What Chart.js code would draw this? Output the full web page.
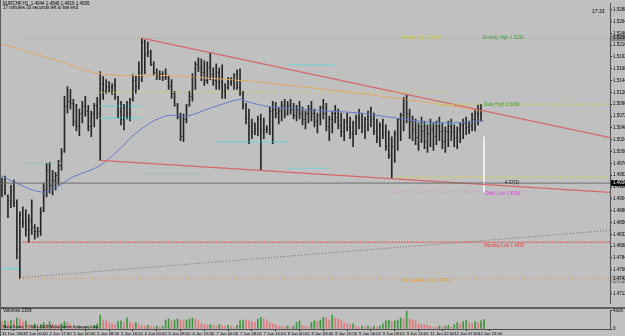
<!DOCTYPE html>
<html>
<head>
<meta charset="utf-8">
<script src="https://cdn.jsdelivr.net/npm/chart.js@4.4.0/dist/chart.umd.min.js"></script>
<style>
  body { margin: 0; background: #c0c0c0; width: 625px; height: 336px; overflow: hidden; position: relative; }
  #price { position: absolute; left: 0; top: 0; }
  #vol { position: absolute; left: 0; top: 307px; }
</style>
</head>
<body>
<canvas id="price" width="625" height="307"></canvas>
<canvas id="vol" width="625" height="29"></canvas>
<script>
// EURCHF H1, 31 Dec 2008 - 12 Jan 2009
const timeLabels = ['31 Dec 2008', '2 Jan 00:00', '2 Jan 17:00', '5 Jan 00:00', '5 Jan 08:00', '5 Jan 16:00',
  '6 Jan 00:00', '6 Jan 08:00', '6 Jan 16:00', '7 Jan 00:00', '7 Jan 08:00', '7 Jan 16:00', '8 Jan 00:00',
  '8 Jan 08:00', '8 Jan 16:00', '9 Jan 00:00', '9 Jan 08:00', '9 Jan 16:00', '11 Jan 22:00', '12 Jan 07:00', '12 Jan 15:00'];

const priceTicks = [1.5288, 1.5264, 1.5240, 1.5216, 1.5192, 1.5168, 1.5144, 1.5120, 1.5096, 1.5072, 1.5048, 1.5024,
  1.5000, 1.4976, 1.4952, 1.4928, 1.4904, 1.4880, 1.4856, 1.4832, 1.4808, 1.4784, 1.4760, 1.4736, 1.4712];

const openP = [
  1.4932, 1.4922, 1.4910, 1.4902, 1.4922, 1.4898, 1.4802, 1.4872, 1.4858, 1.4842,
  1.4862, 1.4846, 1.4838, 1.4838, 1.4882, 1.4922, 1.4962, 1.4932, 1.4942, 1.4952,
  1.4972, 1.5002, 1.5092, 1.5102, 1.5098, 1.5062, 1.5052, 1.5078, 1.5092, 1.5082,
  1.5052, 1.5078, 1.5094, 1.5078, 1.5138, 1.5122, 1.5132, 1.5130, 1.5134, 1.5110,
  1.5082, 1.5066, 1.5092, 1.5078, 1.5106, 1.5146, 1.5132, 1.5162, 1.5222, 1.5198,
  1.5202, 1.5178, 1.5162, 1.5156, 1.5158, 1.5152, 1.5152, 1.5132, 1.5118, 1.5094,
  1.5072, 1.5032, 1.5066, 1.5094, 1.5112, 1.5152, 1.5178, 1.5172, 1.5162, 1.5146,
  1.5172, 1.5158, 1.5146, 1.5162, 1.5142, 1.5122, 1.5130, 1.5142, 1.5146, 1.5158,
  1.5130, 1.5118, 1.5094, 1.5066, 1.5052, 1.5042, 1.5046, 1.5066, 1.5042, 1.5046,
  1.5046, 1.5082, 1.5086, 1.5078, 1.5082, 1.5094, 1.5078, 1.5094, 1.5086, 1.5074,
  1.5086, 1.5078, 1.5066, 1.5078, 1.5086, 1.5078, 1.5062, 1.5074, 1.5090, 1.5078,
  1.5052, 1.5066, 1.5078, 1.5070, 1.5054, 1.5042, 1.5062, 1.5050, 1.5038, 1.5058,
  1.5070, 1.5066, 1.5050, 1.5066, 1.5082, 1.5066, 1.5042, 1.5030, 1.5054, 1.5038,
  1.5012, 1.4992, 1.5012, 1.5038, 1.5066, 1.5074, 1.5106, 1.5078, 1.5062, 1.5046,
  1.5030, 1.5052, 1.5042, 1.5022, 1.5038, 1.5046, 1.5032, 1.5052, 1.5042, 1.5022,
  1.5042, 1.5052, 1.5042, 1.5030, 1.5046, 1.5054, 1.5058, 1.5050, 1.5054, 1.5066,
  1.5078, 1.5086, 1.5026];

const highP = [
  1.4946, 1.4950, 1.4912, 1.4932, 1.4942, 1.4902, 1.4878, 1.4888, 1.4882, 1.4872,
  1.4902, 1.4852, 1.4846, 1.4886, 1.4936, 1.4976, 1.4978, 1.4962, 1.4958, 1.4982,
  1.5006, 1.5112, 1.5132, 1.5126, 1.5106, 1.5096, 1.5086, 1.5102, 1.5112, 1.5094,
  1.5082, 1.5098, 1.5110, 1.5162, 1.5152, 1.5146, 1.5142, 1.5138, 1.5148, 1.5112,
  1.5102, 1.5096, 1.5102, 1.5108, 1.5156, 1.5154, 1.5182, 1.5230, 1.5226, 1.5222,
  1.5206, 1.5182, 1.5168, 1.5164, 1.5162, 1.5168, 1.5154, 1.5146, 1.5122, 1.5098,
  1.5078, 1.5076, 1.5096, 1.5122, 1.5158, 1.5182, 1.5190, 1.5188, 1.5184, 1.5182,
  1.5200, 1.5170, 1.5178, 1.5170, 1.5176, 1.5138, 1.5150, 1.5150, 1.5158, 1.5166,
  1.5168, 1.5122, 1.5098, 1.5086, 1.5066, 1.5058, 1.5072, 1.5076, 1.5068, 1.5052,
  1.5090, 1.5102, 1.5100, 1.5090, 1.5102, 1.5106, 1.5102, 1.5106, 1.5098, 1.5094,
  1.5102, 1.5090, 1.5082, 1.5094, 1.5102, 1.5086, 1.5078, 1.5092, 1.5106, 1.5098,
  1.5072, 1.5082, 1.5094, 1.5086, 1.5078, 1.5066, 1.5078, 1.5070, 1.5062, 1.5074,
  1.5086, 1.5078, 1.5070, 1.5082, 1.5090, 1.5078, 1.5066, 1.5058, 1.5066, 1.5054,
  1.5042, 1.5030, 1.5042, 1.5066, 1.5078, 1.5110, 1.5114, 1.5086, 1.5072, 1.5066,
  1.5058, 1.5070, 1.5062, 1.5054, 1.5066, 1.5058, 1.5062, 1.5070, 1.5058, 1.5050,
  1.5062, 1.5066, 1.5054, 1.5050, 1.5058, 1.5066, 1.5070, 1.5062, 1.5078, 1.5086,
  1.5096, 1.5096, 1.5030];

const lowP = [
  1.4908, 1.4912, 1.4866, 1.4886, 1.4888, 1.4782, 1.4742, 1.4846, 1.4828, 1.4816,
  1.4832, 1.4822, 1.4826, 1.4830, 1.4878, 1.4908, 1.4916, 1.4912, 1.4922, 1.4932,
  1.4962, 1.4998, 1.5078, 1.5086, 1.5052, 1.5042, 1.5032, 1.5058, 1.5072, 1.5042,
  1.5030, 1.5050, 1.5066, 1.4982, 1.5106, 1.5118, 1.5120, 1.5116, 1.5106, 1.5068,
  1.5054, 1.5044, 1.5066, 1.5062, 1.5102, 1.5118, 1.5126, 1.5142, 1.5158, 1.5192,
  1.5174, 1.5154, 1.5146, 1.5146, 1.5144, 1.5146, 1.5126, 1.5108, 1.5092, 1.5066,
  1.5022, 1.5020, 1.5058, 1.5092, 1.5102, 1.5126, 1.5162, 1.5144, 1.5134, 1.5138,
  1.5146, 1.5134, 1.5126, 1.5126, 1.5108, 1.5108, 1.5126, 1.5134, 1.5126, 1.5126,
  1.5114, 1.5086, 1.5056, 1.5016, 1.5026, 1.5034, 1.5032, 1.4962, 1.5026, 1.5038,
  1.5034, 1.5016, 1.5068, 1.5056, 1.5062, 1.5068, 1.5074, 1.5076, 1.5066, 1.5062,
  1.5066, 1.5054, 1.5046, 1.5058, 1.5062, 1.5050, 1.5038, 1.5054, 1.5066, 1.5042,
  1.5022, 1.5038, 1.5058, 1.5046, 1.5030, 1.5022, 1.5042, 1.5026, 1.5010, 1.5034,
  1.5046, 1.5038, 1.5026, 1.5042, 1.5050, 1.5034, 1.5018, 1.5010, 1.5026, 1.5002,
  1.4986, 1.4946, 1.4978, 1.5002, 1.5022, 1.5042, 1.5058, 1.5026, 1.5022, 1.5014,
  1.5002, 1.5018, 1.5006, 1.4998, 1.5010, 1.5002, 1.5014, 1.5022, 1.5006, 1.4998,
  1.5010, 1.5022, 1.5010, 1.5006, 1.5018, 1.5026, 1.5034, 1.5036, 1.5042, 1.5042,
  1.5054, 1.5062, 1.4918];

const closeP = [
  1.4922, 1.4918, 1.4902, 1.4922, 1.4898, 1.4802, 1.4872, 1.4858, 1.4842, 1.4862,
  1.4846, 1.4838, 1.4838, 1.4878, 1.4922, 1.4962, 1.4932, 1.4942, 1.4952, 1.4972,
  1.4998, 1.5092, 1.5102, 1.5098, 1.5062, 1.5052, 1.5078, 1.5092, 1.5082, 1.5052,
  1.5078, 1.5094, 1.5078, 1.5138, 1.5122, 1.5132, 1.5130, 1.5134, 1.5112, 1.5082,
  1.5066, 1.5092, 1.5078, 1.5106, 1.5146, 1.5132, 1.5162, 1.5222, 1.5198, 1.5202,
  1.5178, 1.5162, 1.5156, 1.5158, 1.5152, 1.5154, 1.5132, 1.5118, 1.5094, 1.5072,
  1.5032, 1.5066, 1.5090, 1.5112, 1.5152, 1.5178, 1.5172, 1.5162, 1.5146, 1.5172,
  1.5158, 1.5146, 1.5162, 1.5142, 1.5122, 1.5130, 1.5142, 1.5146, 1.5158, 1.5130,
  1.5118, 1.5094, 1.5066, 1.5052, 1.5042, 1.5046, 1.5066, 1.5042, 1.5046, 1.5046,
  1.5082, 1.5086, 1.5078, 1.5082, 1.5094, 1.5078, 1.5094, 1.5086, 1.5074, 1.5086,
  1.5078, 1.5066, 1.5078, 1.5086, 1.5078, 1.5062, 1.5074, 1.5090, 1.5078, 1.5052,
  1.5066, 1.5078, 1.5070, 1.5054, 1.5042, 1.5062, 1.5050, 1.5038, 1.5058, 1.5070,
  1.5066, 1.5050, 1.5066, 1.5082, 1.5066, 1.5042, 1.5030, 1.5054, 1.5038, 1.5012,
  1.4992, 1.5012, 1.5038, 1.5066, 1.5074, 1.5106, 1.5078, 1.5062, 1.5046, 1.5030,
  1.5052, 1.5042, 1.5022, 1.5038, 1.5046, 1.5032, 1.5052, 1.5042, 1.5022, 1.5042,
  1.5052, 1.5042, 1.5030, 1.5046, 1.5054, 1.5058, 1.5050, 1.5054, 1.5066, 1.5078,
  1.5086, 1.5078, 1.4936];

const volumes = [
  1800, 2000, 1800, 2200, 2000, 2700, 2500, 1800, 2000, 1100,
  900, 1300, 700, 1100, 1600, 1100, 1800, 1300, 1100, 900,
  1300, 1800, 1600, 1100, 400, 300, 500, 300, 400, 600,
  500, 900, 1300, 3400, 2200, 2000, 1600, 1300, 1100, 1800,
  2000, 1600, 2700, 1800, 1300, 1600, 1100, 900, 700, 900,
  700, 450, 700, 450, 700, 2200, 2500, 2000, 2200, 2500,
  2200, 2000, 2200, 2500, 2700, 2500, 2000, 1300, 1100, 900,
  1100, 900, 700, 1100, 900, 700, 900, 700, 450, 900,
  2000, 2200, 2200, 2000, 1800, 1600, 2500, 2900, 2500, 2000,
  1600, 1300, 1100, 700, 700, 450, 700, 450, 700, 1600,
  2000, 900, 700, 450, 1600, 2000, 1800, 2200, 2900, 2700,
  2200, 3400, 2700, 2500, 2200, 1600, 1300, 1100, 1300, 700,
  450, 700, 450, 700, 450, 700, 450, 700, 1300, 2000,
  2200, 1800, 2000, 2200, 2700, 2500, 4506, 2500, 2200, 2000,
  1300, 1100, 1100, 900, 700, 450, 450, 700, 450, 700,
  900, 450, 1100, 1600, 1300, 1800, 2200, 1600, 1300, 1800,
  1600, 2000, 2309];
const volumeMax = 4506;

// moving averages read at a few bars
const maFastIdx = [0, 4, 13, 18, 23, 27, 33, 39, 46, 55, 62, 70, 80, 82, 89, 100, 110, 120, 130, 140, 150, 162];
const maFastVal = [1.4950, 1.4938, 1.4918, 1.4926, 1.4946, 1.4956, 1.4972, 1.5002, 1.5042, 1.5072, 1.5072,
  1.5088, 1.5106, 1.5102, 1.5092, 1.5086, 1.5082, 1.5078, 1.5070, 1.5062, 1.5058, 1.5062];
const maSlowIdx = [0, 9, 20, 33, 55, 80, 100, 120, 140, 162];
const maSlowVal = [1.5218, 1.5202, 1.5182, 1.5158, 1.5154, 1.5144, 1.5132, 1.5118, 1.5102, 1.5082];

// levels
const monthlyHigh = 1.5230;
const prevDayHigh = 1.5120;
const dailyHigh = 1.5096;
const pivotLevel = 1.4948;
const bidPrice = 1.4936;
const dailyLow = 1.4918;
const monthlyLow = 1.4816;
const prevWeekLow = 1.4742;

// trend lines (bar index, price)
const upperTrendIdx = [47, 204.35], upperTrendVal = [1.5230, 1.5028];
const lowerTrendIdx = [33, 204.35], lowerTrendVal = [1.4982, 1.4917];
const supportIdx = [6, 204.35], supportVal = [1.4744, 1.4840];

// daily pivot stubs
const cyanFrom = [7, 48, 33, 33, 72, 96, 96, 140, 0];
const cyanTo = [21, 67, 47, 47, 96, 112, 110, 153, 6];
const cyanVal = [1.4976, 1.4956, 1.5092, 1.5068, 1.5020, 1.5176, 1.4966, 1.5056, 1.4762];

const idxMin = -0.34, idxMax = 204.35;
const fontFam = '"Liberation Sans", Arial, sans-serif';
Chart.defaults.font.family = fontFam;
Chart.defaults.font.size = 4.5;
Chart.defaults.color = '#000';

function seg(xs, ys) {
  return xs.map((x, i) => ({ x: x, y: ys[i] }));
}
function hline(from, to, v) {
  return [{ x: from, y: v }, { x: to, y: v }];
}
function lineSet(data, color, dash, width) {
  return {
    type: 'line', data: data, borderColor: color, borderWidth: width || 1, borderDash: dash || [],
    pointRadius: 0, fill: false, order: 1
  };
}

const lastBar = highP.length - 1;
const barColor = '#262626';
const datasets = [];
datasets.push({
  type: 'bar',
  data: highP.map((h, i) => ({ x: i, y: [lowP[i], h] })),
  backgroundColor: highP.map((h, i) => i === lastBar ? '#f4f4f4' : barColor),
  borderWidth: 0,
  barThickness: 1,
  grouped: false,
  order: 10
});
cyanVal.forEach((v, k) => datasets.push(lineSet(hline(cyanFrom[k], cyanTo[k], v), '#4cd4d4', [1, 1])));
datasets.push(lineSet(hline(7, idxMax, monthlyHigh), '#90b868', [1, 1]));
datasets.push(lineSet(hline(33, 150, prevDayHigh), '#d2d24c', [1, 2]));
datasets.push(lineSet(hline(146, idxMax, dailyHigh), '#c4d448', [3, 2]));
datasets.push(lineSet(hline(132, idxMax, pivotLevel), '#d2d24c', [3, 2]));
datasets.push(lineSet(hline(idxMin, idxMax, bidPrice), '#6a6a6a', []));
datasets.push(lineSet(hline(131, 176, dailyLow), '#e070e0', [1, 2]));
datasets.push(lineSet(hline(7, idxMax, monthlyLow), '#e04848', [2, 1]));
datasets.push(lineSet(hline(6, idxMax, prevWeekLow), '#dca040', [1, 2]));
datasets.push(lineSet(seg(supportIdx, supportVal), '#6e6e6e', [1, 2]));
datasets.push(lineSet(seg(upperTrendIdx, upperTrendVal), '#d46868', [], 1.2));
datasets.push(lineSet(seg(lowerTrendIdx, lowerTrendVal), '#d46868', [], 1.2));
datasets.push(Object.assign(lineSet(seg(maSlowIdx, maSlowVal), '#e0a868', []), { tension: 0.4 }));
datasets.push(Object.assign(lineSet(seg(maFastIdx, maFastVal), '#6678c8', []), { tension: 0.4 }));

const ohlcTicks = {
  id: 'ohlcTicks',
  afterDatasetsDraw(chart) {
    const { ctx, scales: { x, y } } = chart;
    ctx.save();
    ctx.lineWidth = 1;
    for (let i = 0; i < openP.length; i++) {
      const px = x.getPixelForValue(i);
      const po = Math.round(y.getPixelForValue(openP[i])) + 0.5;
      const pc = Math.round(y.getPixelForValue(closeP[i])) + 0.5;
      ctx.strokeStyle = i === lastBar ? '#f4f4f4' : barColor;
      ctx.beginPath();
      ctx.moveTo(px - 1, po); ctx.lineTo(px, po);
      ctx.moveTo(px, pc); ctx.lineTo(px + 1, pc);
      ctx.stroke();
    }
    ctx.restore();
  }
};

const priceText = {
  id: 'priceText',
  afterDraw(chart) {
    const { ctx, scales: { x, y } } = chart;
    ctx.save();
    ctx.font = '4.5px ' + fontFam;
    ctx.textBaseline = 'middle';
    const put = (txt, idx, price, dy, color) => {
      ctx.fillStyle = color;
      ctx.fillText(txt, x.getPixelForValue(idx), y.getPixelForValue(price) + dy);
    };
    put('Weekly High ' + monthlyHigh.toFixed(4), 134, monthlyHigh, 0, '#c8c83c');
    put('Monthly High ' + monthlyHigh.toFixed(4), 161.5, monthlyHigh, 0, '#3c9e3c');
    put('Daily High ' + dailyHigh.toFixed(4), 162, dailyHigh, 1, '#3c9e3c');
    put('4.37(3)', 169, bidPrice, 0, '#202020');
    put('Daily Low ' + dailyLow.toFixed(4), 162.5, dailyLow, 2, '#dc48dc');
    put('Monthly Low ' + monthlyLow.toFixed(4), 162, monthlyLow, 4, '#e03c3c');
    put('Prev Weekly Low ' + prevWeekLow.toFixed(4), 134, prevWeekLow, 2, '#e4a040');

    // axis boxes
    const ax = chart.chartArea.right + 1;
    const box = (price, bg, fg) => {
      const py = y.getPixelForValue(price);
      ctx.fillStyle = bg;
      ctx.fillRect(ax, py - 3, 625 - ax, 6);
      ctx.fillStyle = fg;
      ctx.fillText(price.toFixed(4), ax + 2, py);
    };
    box(monthlyHigh, '#8c8c8c', '#000');
    box(prevWeekLow, '#a8a8a8', '#000');
    box(bidPrice, '#000', '#fff');

    // header
    ctx.fillStyle = '#000';
    ctx.fillText('EURCHF,H1  1.4944 1.4946 1.4916 1.4936', 3, 3.5);
    ctx.fillText('17 minutes 33 seconds left to bar end', 3, 7.5);
    ctx.font = '5px ' + fontFam;
    ctx.fillText('17:33', 592, 12);

    // left frame
    ctx.fillStyle = '#5a5a5a';
    ctx.fillRect(0, 0, 1, chart.height);
    ctx.restore();
  }
};

new Chart(document.getElementById('price'), {
  type: 'bar',
  data: { datasets: datasets },
  options: {
    responsive: false,
    animation: false,
    events: [],
    layout: { padding: { left: 1, top: 1, right: 0, bottom: 1 } },
    plugins: { legend: { display: false }, tooltip: { enabled: false } },
    scales: {
      x: { type: 'linear', min: idxMin, max: idxMax, offset: false, display: false },
      y: {
        position: 'right', min: 1.4692, max: 1.5300,
        afterBuildTicks: (s) => { s.ticks = priceTicks.map(v => ({ value: v })); },
        afterFit: (s) => { s.width = 15; },
        ticks: { padding: 1, callback: (v) => v.toFixed(4), font: { size: 4.5 } },
        grid: { drawOnChartArea: false, tickLength: 2, color: '#222' },
        border: { display: true, color: '#505050' }
      }
    }
  },
  plugins: [ohlcTicks, priceText]
});

const volText = {
  id: 'volText',
  afterDraw(chart) {
    const { ctx } = chart;
    ctx.save();
    ctx.fillStyle = '#606060';
    ctx.fillRect(0, 0, chart.width, 2);
    ctx.fillStyle = '#5a5a5a';
    ctx.fillRect(0, 0, 1, chart.height);
    ctx.fillStyle = '#000';
    ctx.font = '4.5px ' + fontFam;
    ctx.textBaseline = 'middle';
    ctx.fillText('Volumes ' + volumes[volumes.length - 1], 3, 4);
    ctx.font = '4px ' + fontFam;
    ctx.fillText('MetaTrader, \u00a9 2001-2008 MetaQuotes Software Corp.', 3, 20);
    ctx.restore();
  }
};

new Chart(document.getElementById('vol'), {
  type: 'bar',
  data: {
    datasets: [{
      data: volumes.map((v, i) => ({ x: i, y: v })),
      backgroundColor: volumes.map((v, i) => (i > 0 && v > volumes[i - 1]) ? '#3c963c' : '#e07878'),
      borderWidth: 0,
      barThickness: 1
    }]
  },
  options: {
    responsive: false,
    animation: false,
    events: [],
    layout: { padding: { left: 1, top: 2, right: 0, bottom: 0 } },
    plugins: { legend: { display: false }, tooltip: { enabled: false } },
    scales: {
      x: {
        type: 'linear', min: idxMin, max: idxMax, offset: false,
        afterBuildTicks: (s) => { s.ticks = timeLabels.map((t, k) => ({ value: k * 8 })); },
        afterFit: (s) => { s.height = 7; },
        ticks: { autoSkip: false, maxRotation: 0, minRotation: 0, align: 'start', padding: 0,
          callback: (v, i) => timeLabels[i], font: { size: 4.2 } },
        grid: { drawOnChartArea: false, tickLength: 2, color: '#222' },
        border: { display: true, color: '#505050' }
      },
      y: {
        position: 'right', min: 0, max: volumeMax,
        afterBuildTicks: (s) => { s.ticks = [{ value: 0 }, { value: volumeMax }]; },
        afterFit: (s) => { s.width = 15; },
        ticks: { padding: 1, callback: (v) => String(v), font: { size: 4.5 } },
        grid: { drawOnChartArea: false, tickLength: 2, color: '#222' },
        border: { display: true, color: '#505050' }
      }
    }
  },
  plugins: [volText]
});
</script>
</body>
</html>
